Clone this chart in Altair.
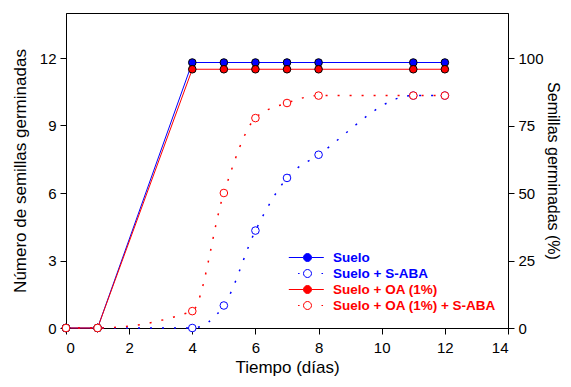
import altair as alt
import pandas as pd

# ---- data ----
dias = [0, 1, 4, 5, 6, 7, 8, 11, 12]
suelo = [0, 0, 11.8, 11.8, 11.8, 11.8, 11.8, 11.8, 11.8]
suelo_saba = [0, 0, 0, 1.0, 4.33, 6.67, 7.7, 10.33, 10.33]
suelo_oa = [0, 0, 11.5, 11.5, 11.5, 11.5, 11.5, 11.5, 11.5]
suelo_oa_saba = [0, 0, 0.75, 6.0, 9.33, 10.0, 10.33, 10.33, 10.33]

series = ["Suelo", "Suelo + S-ABA", "Suelo + OA (1%)", "Suelo + OA (1%) + S-ABA"]
valores = [suelo, suelo_saba, suelo_oa, suelo_oa_saba]
colores = ["#0000FF", "#0000FF", "#FF0000", "#FF0000"]
relleno = ["#0000FF", "#FFFFFF", "#FF0000", "#FFFFFF"]
borde = ["#000000", "#0000FF", "#000000", "#FF0000"]
punteada = [False, True, False, True]

x_ticks = [0, 2, 4, 6, 8, 10, 12, 14]
y_ticks = [0, 3, 6, 9, 12]
pct_ticks = [0, 25, 50, 75, 100]

rows = []
for s, v in zip(series, valores):
    for d, n in zip(dias, v):
        rows.append({"dia": d, "n": n, "serie": s})
df = pd.DataFrame(rows)

FONT = "Liberation Sans"

# legend symbols: line + circle, dotted + circle
circ = "M-0.57,0A0.57,0.57 0 1,0 0.57,0A0.57,0.57 0 1,0 -0.57,0Z"
sym_solid = "M-2.67,0H-0.57M0.57,0H2.33" + circ
sym_dot = "M-1.35,0H-1.13M2.0,0H2.22" + circ
simbolos = [sym_dot if p else sym_solid for p in punteada]

x_enc = alt.X(
    "dia:Q",
    scale=alt.Scale(domain=[0, 14], nice=False),
    axis=alt.Axis(title="Tiempo (días)", values=x_ticks, titlePadding=4, labelPadding=6),
)
y_enc = alt.Y(
    "n:Q",
    scale=alt.Scale(domain=[0, 14], nice=False),
    axis=alt.Axis(title="Número de semillas germinadas", values=y_ticks, titlePadding=10, labelPadding=4),
)

base = alt.Chart(df)

lines = []
points = []
for i, s in enumerate(series):
    kw = dict(color=colores[i], strokeWidth=1)
    if punteada[i]:
        kw.update(strokeDash=[2, 10], strokeWidth=1.5, interpolate="monotone")
    lines.append(
        base.transform_filter(alt.datum.serie == s).mark_line(**kw).encode(x=x_enc, y=y_enc)
    )
    points.append(
        base.transform_filter(alt.datum.serie == s)
        .mark_point(shape="circle", size=58, filled=False, fill=relleno[i], stroke=borde[i],
                    strokeWidth=1, opacity=1, fillOpacity=1)
        .encode(x=x_enc, y=y_enc)
    )

leg = alt.Legend(
    title=None,
    orient="none",
    legendX=234,
    legendY=237,
    padding=0,
    labelFont=FONT,
    labelFontSize=13.5,
    labelFontWeight="bold",
    labelLimit=300,
    labelOffset=18,
    rowPadding=2,
    symbolSize=196,
    symbolStrokeWidth=1,
    labelColor={"expr": "indexof(datum.label, 'OA') >= 0 ? '#FF0000' : '#0000FF'"},
)

legend_layer = (
    base.transform_filter("false")
    .mark_point(size=196, filled=False, strokeWidth=1, opacity=1)
    .encode(
        shape=alt.Shape("serie:N", scale=alt.Scale(domain=series, range=simbolos), legend=leg),
        fill=alt.Fill("serie:N", scale=alt.Scale(domain=series, range=relleno), legend=leg),
        stroke=alt.Stroke("serie:N", scale=alt.Scale(domain=series, range=colores), legend=leg),
    )
)

main = alt.layer(*lines, *points, legend_layer)

right = (
    base.transform_filter("false")
    .transform_calculate(pct="datum.n / 12 * 100")
    .mark_point()
    .encode(
        y=alt.Y(
            "pct:Q",
            scale=alt.Scale(domain=[0, 1400 / 12], nice=False),
            axis=alt.Axis(orient="right", title="Semillas germinadas (%)", values=pct_ticks,
                          titlePadding=1, labelPadding=4, titleFontSize=16),
        )
    )
)

chart = (
    alt.layer(main, right)
    .resolve_scale(y="independent")
    .properties(
        width=442,
        height=315,
        autosize="none",
        padding={"left": 58, "top": 5, "right": 55, "bottom": 51},
    )
    .configure_view(stroke="black", strokeWidth=1)
    .configure_axis(
        labelFont=FONT,
        labelFontSize=15,
        labelColor="black",
        titleFont=FONT,
        titleFontSize=17,
        titleFontWeight="normal",
        titleColor="black",
        domainColor="black",
        tickColor="black",
        tickSize=6,
        grid=False,
    )
)

chart.save("out.html", embed_options={"renderer": "svg", "actions": False})
